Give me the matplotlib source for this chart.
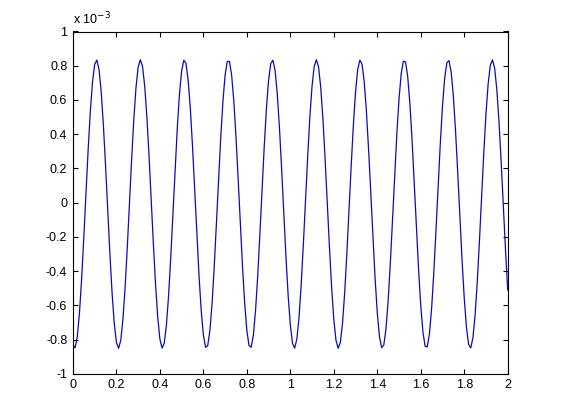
import numpy as np
import matplotlib
matplotlib.use('Agg')
import matplotlib.pyplot as plt

t = np.arange(0, 201) * 0.01
y = [-0.831, -0.848, -0.784, -0.645, -0.446, -0.204, 0.055, 0.309, 0.532, 0.704,
     0.808, 0.833, 0.778, 0.649, 0.455, 0.218, -0.041, -0.297, -0.526, -0.704,
     -0.816, -0.851, -0.805, -0.682, -0.496, -0.263, -0.005, 0.252, 0.485, 0.671,
     0.791, 0.835, 0.798, 0.684, 0.505, 0.275, 0.019, -0.240, -0.477, -0.668,
     -0.797, -0.850, -0.822, -0.717, -0.544, -0.319, -0.065, 0.194, 0.435, 0.633,
     0.769, 0.832, 0.814, 0.717, 0.551, 0.331, 0.079, -0.182, -0.425, -0.629,
     -0.773, -0.845, -0.836, -0.748, -0.590, -0.375, -0.125, 0.135, 0.382, 0.592,
     0.745, 0.825, 0.825, 0.746, 0.595, 0.386, 0.139, -0.122, -0.371, -0.586,
     -0.746, -0.835, -0.845, -0.775, -0.631, -0.428, -0.184, 0.075, 0.328, 0.548,
     0.715, 0.813, 0.832, 0.771, 0.635, 0.438, 0.198, -0.062, -0.317, -0.542,
     -0.715, -0.822, -0.850, -0.798, -0.671, -0.479, -0.243, 0.016, 0.272, 0.502,
     0.682, 0.797, 0.835, 0.792, 0.672, 0.488, 0.256, -0.001, -0.259, -0.494,
     -0.681, -0.804, -0.851, -0.817, -0.706, -0.528, -0.300, -0.044, 0.215, 0.452,
     0.646, 0.778, 0.833, 0.809, 0.706, 0.535, 0.312, 0.059, -0.201, -0.443,
     -0.643, -0.782, -0.847, -0.832, -0.738, -0.574, -0.356, -0.105, 0.156, 0.401,
     0.606, 0.753, 0.827, 0.822, 0.736, 0.580, 0.367, 0.118, -0.142, -0.390,
     -0.601, -0.756, -0.839, -0.843, -0.766, -0.617, -0.410, -0.164, 0.097, 0.347,
     0.564, 0.725, 0.817, 0.830, 0.763, 0.622, 0.420, 0.178, -0.082, -0.335,
     -0.557, -0.726, -0.827, -0.849, -0.790, -0.657, -0.462, -0.223, 0.036, 0.291,
     0.518, 0.694, 0.803, 0.834, 0.785, 0.660, 0.471, 0.236, -0.022, -0.279,
     -0.510]
scale = 1e-3

xticks = [0, 0.2, 0.4, 0.6, 0.8, 1, 1.2, 1.4, 1.6, 1.8, 2]
xlabels = ['0', '0.2', '0.4', '0.6', '0.8', '1', '1.2', '1.4', '1.6', '1.8', '2']
yticks = [-1, -0.8, -0.6, -0.4, -0.2, 0, 0.2, 0.4, 0.6, 0.8, 1]
ylabels = ['-1', '-0.8', '-0.6', '-0.4', '-0.2', '0', '0.2', '0.4', '0.6', '0.8', '1']

plt.rcParams['font.family'] = ['Liberation Sans', 'DejaVu Sans']
plt.rcParams['font.size'] = 9

fig = plt.figure(figsize=(5.61, 4.20), dpi=100)
ax = fig.add_axes([0.13, 0.11, 0.775, 0.815])
ax.plot(t, np.array(y) * scale, color='#0a0ac0', lw=0.9)

ax.set_xlim(0, 2)
ax.set_ylim(-1 * scale, 1 * scale)
ax.set_xticks(xticks, xlabels)
ax.set_yticks([v * scale for v in yticks], ylabels)
ax.tick_params(direction='in', top=True, right=True, length=3.5, width=0.8, pad=4)
for s in ax.spines.values():
    s.set_linewidth(0.8)
ax.text(0, 1.012, r'x 10$^{-3}$', transform=ax.transAxes, ha='left', va='bottom', fontsize=9)

fig.savefig('out.png', dpi=100, facecolor='white')
